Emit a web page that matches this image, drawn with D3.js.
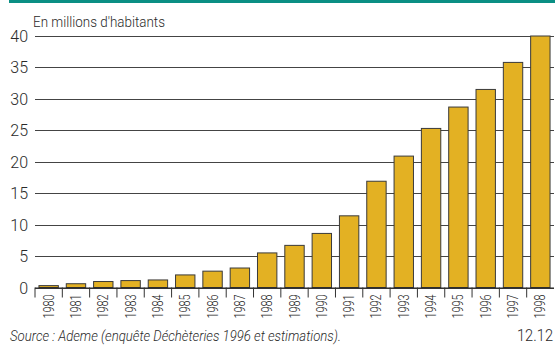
<!DOCTYPE html>
<html><head><meta charset="utf-8">
<script src="https://cdn.jsdelivr.net/npm/d3@7"></script>
<style>
body{margin:0;background:#fff;}
text{font-family:"Roboto",sans-serif;font-weight:300;fill:#2a2a2a;}
</style></head>
<body>
<svg id="c" width="555" height="345"></svg>
<script>
const years = ["1980","1981","1982","1983","1984","1985","1986","1987","1988","1989","1990","1991","1992","1993","1994","1995","1996","1997","1998"];
const values = [0.3,0.6,0.95,1.1,1.2,2.0,2.6,3.1,5.5,6.7,8.6,11.4,16.9,20.9,25.3,28.7,31.5,35.8,40.0];
const yTicks = [0,5,10,15,20,25,30,35,40];
const unitLabel = "En millions d'habitants";
const sourceText = "Source : Ademe (enquête Déchèteries 1996 et estimations).";
const refText = "12.12";

(function(){
const svg = d3.select("#c");
const mLeft = 35, mRight = 554, mTop = 36, mBottom = 287.5;

svg.append("rect").attr("x",9).attr("y",0).attr("width",546).attr("height",3).attr("fill","#0a8f84");

const x = d3.scaleBand().domain(years).range([mLeft,mRight]).paddingInner(0.29).paddingOuter(0.145);
const y = d3.scaleLinear().domain([0,40]).range([mBottom,mTop]);

svg.append("g").selectAll("line").data(yTicks).join("line")
  .attr("x1",mLeft).attr("x2",mRight)
  .attr("y1",d=>Math.round(y(d))+0.5).attr("y2",d=>Math.round(y(d))+0.5)
  .attr("stroke","#444").attr("stroke-width",1.2);

svg.append("g").selectAll("text").data(yTicks).join("text")
  .attr("x",28).attr("y",d=>y(d)+6)
  .attr("text-anchor","end").attr("font-size",16).text(d=>d);

svg.append("g").selectAll("rect").data(values).join("rect")
  .attr("x",(d,i)=>x(years[i])).attr("width",x.bandwidth())
  .attr("y",d=>y(d)).attr("height",d=>mBottom-y(d))
  .attr("fill","#e3b123").attr("stroke","#3a3a3a").attr("stroke-width",1);

svg.append("line").attr("x1",mLeft).attr("x2",mRight).attr("y1",mBottom+0.5).attr("y2",mBottom+0.5).attr("stroke","#222").attr("stroke-width",1.2);

const step = x.step();
const bounds = years.map((d,i)=>mLeft + i*step);
svg.append("g").selectAll("line").data(bounds).join("line")
  .attr("x1",d=>d).attr("x2",d=>d).attr("y1",mBottom).attr("y2",mBottom+10)
  .attr("stroke","#333").attr("stroke-width",1);

svg.append("g").selectAll("text").data(years).join("text")
  .attr("transform",d=>`translate(${x(d)+x.bandwidth()/2+5},${mBottom+7}) rotate(-90)`)
  .attr("text-anchor","end").attr("font-size",15)
  .attr("textLength",24).attr("lengthAdjust","spacingAndGlyphs").text(d=>d);

svg.append("text").attr("x",33).attr("y",27).attr("font-size",15)
  .attr("textLength",132).attr("lengthAdjust","spacingAndGlyphs").text(unitLabel);
svg.append("text").attr("x",10).attr("y",341).attr("font-size",15).attr("font-style","italic")
  .attr("textLength",331).attr("lengthAdjust","spacingAndGlyphs").text(sourceText);
svg.append("text").attr("x",553).attr("y",341).attr("font-size",16).attr("text-anchor","end")
  .attr("textLength",36).attr("lengthAdjust","spacingAndGlyphs").text(refText);
})();
</script>
</body></html>
